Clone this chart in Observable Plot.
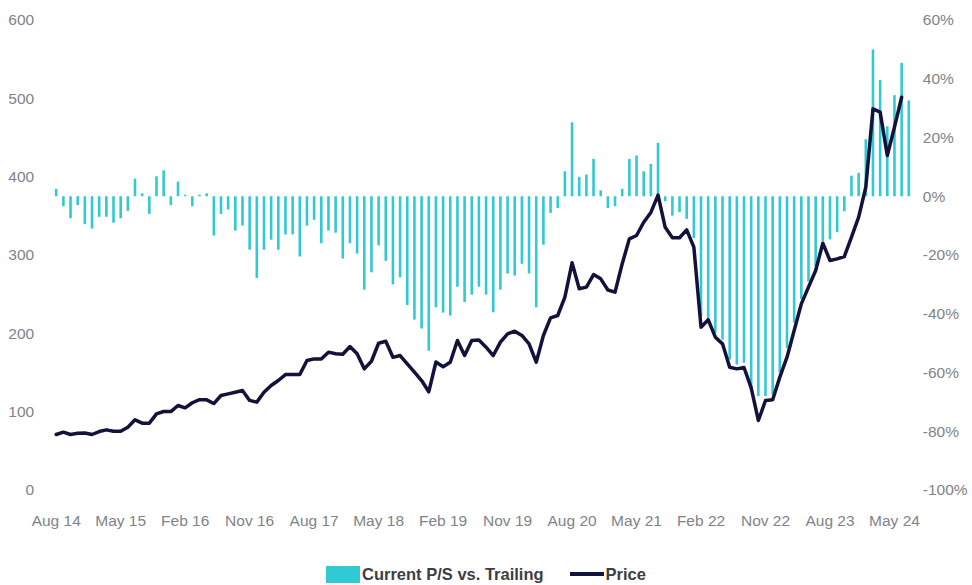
<!DOCTYPE html>
<html>
<head>
<meta charset="utf-8">
<script src="https://cdn.jsdelivr.net/npm/d3@7"></script>
<script src="https://cdn.jsdelivr.net/npm/@observablehq/plot@0.6"></script>
<style>
  html, body { margin: 0; padding: 0; background: #fff; }
  body { width: 972px; font-family: "Liberation Sans", sans-serif; }
  #legend { display: flex; justify-content: center; align-items: center; margin-top: 24px; height: 20px;
            font-weight: bold; font-size: 16.5px; color: #3d3d45; }
  .sw { display: inline-block; }
</style>
</head>
<body>
<div id="chart"></div>
<div id="legend">
  <span class="sw" style="width:34px;height:17px;background:#2fcad3;margin-right:2px;"></span>
  <span>Current P/S vs. Trailing</span>
  <span class="sw" style="width:34px;height:4px;background:#12123a;margin-left:26px;margin-right:2px;"></span>
  <span>Price</span>
</div>
<script>
// Months from Aug 2014 to Jul 2024 (category axis)
const startYear = 2014, startMonth = 7; // August (0-based)
const months = d3.range(120).map(i => {
  const d = new Date(Date.UTC(startYear, startMonth + i, 1));
  return d3.utcFormat("%Y-%m")(d);
});

// Tick labels (every 9 months)
const tickMonths = ["2014-08","2015-05","2016-02","2016-11","2017-08","2018-05","2019-02","2019-11","2020-08","2021-05","2022-02","2022-11","2023-08","2024-05"];
const tickLabels = ["Aug 14","May 15","Feb 16","Nov 16","Aug 17","May 18","Feb 19","Nov 19","Aug 20","May 21","Feb 22","Nov 22","Aug 23","May 24"];

// Current P/S vs. Trailing (%), Aug 14 .. Jul 24
const psVsTrailing = [
  2.5, -3.4, -7.5, -3, -9.5, -11, -7, -7, -9, -7.5,
  -5, 6, 1, -6, 6.8, 8.8, -3, 5, 0.5, -3.4,
  0.5, 1, -13.4, -6, -4.5, -11.7, -10, -18.2, -27.8, -18.2,
  -14.8, -18.2, -13, -13, -20.5, -10, -8, -16, -11.7, -12.4,
  -21.2, -16, -19.5, -31.8, -25.9, -16.7, -22, -30, -27.6, -37,
  -42, -45, -52.6, -37.8, -39.6, -40.6, -30.8, -36, -33.5, -30.8,
  -33.5, -39.5, -31.8, -26.3, -27, -23, -26.3, -37.8, -16.5, -5.7,
  -4, 8.5, 25.2, 6.6, 7.4, 12.7, 2, -4, -3.4, 2.5,
  12.7, 13.9, 8.5, 11, 18.2, -1.7, -6.6, -5.4, -7.7, -14.2,
  -40.8, -42.5, -46.5, -48.8, -55.6, -57.3, -56.7, -65.8, -68, -68,
  -67.5, -60, -51.6, -43, -35, -29, -23.8, -15.3, -14.7, -12.2,
  -5.1, 7, 8, 19.4, 50, 39.6, 23.8, 34.4, 45.4, 32.6
];

// Price, Aug 14 .. Jun 24
const price = [
  71.5, 74.5, 71.5, 73, 73.5, 71.5, 75.3, 77.4, 75.7, 75.7,
  80.8, 90.2, 86, 86, 97.9, 100.8, 100.8, 108.5, 105.5, 112,
  116, 115.7, 111, 121.3, 123.4, 125.5, 127.7, 115, 112.8, 125.5,
  134, 140.4, 148, 148, 148, 166, 168, 168, 176.6, 174.5,
  174, 183.8, 174.5, 155.3, 165, 188, 190.6, 170, 172.3, 161.7,
  151, 140.4, 126, 164, 158, 163.8, 191.5, 172.3, 191.5, 192,
  183, 172.3, 189.4, 200, 203.4, 197.9, 187.2, 163.8, 197.9, 220.4,
  223.4, 246.8, 290.7, 257.5, 259.6, 275.7, 270.2, 256, 253.2, 289.4,
  321.3, 325.5, 342.5, 355, 377, 336, 322.6, 322.6, 332.7, 310.6,
  208.5, 218, 195.7, 187.2, 157.4, 155.3, 157, 131, 89.4, 114.9,
  115.8, 144.7, 170.2, 204.3, 238.3, 259.6, 280.9, 315.7, 293.6, 295.7,
  298.7, 323.4, 348.9, 387.2, 487.2, 483, 427.7, 463.8, 502
];

const leftTicks = [0, 100, 200, 300, 400, 500, 600];
const rightTicks = [-100, -80, -60, -40, -20, 0, 20, 40, 60];

// secondary axis (-100%..60%) mapped onto price axis (0..600)
const toLeft = p => (p + 100) * 600 / 160;
const toPct = v => Math.round(v * 160 / 600 - 100);

const bars = months.map((m, i) => ({month: m, pct: psVsTrailing[i]}));
const line = price.map((v, i) => ({month: months[i], price: v}));

const tickText = new Map(tickMonths.map((m, i) => [m, tickLabels[i]]));

const font = "'Liberation Sans', sans-serif";
const grey = "#80838a";

const chart = Plot.plot({
  width: 972,
  height: 540,
  marginLeft: 55.7,
  marginRight: 63.7,
  marginTop: 20,
  marginBottom: 50,
  style: {fontFamily: font, background: "#fff"},
  x: {type: "point", domain: months, padding: 0, round: false},
  y: {domain: [0, 600]},
  marks: [
    Plot.ruleX(bars, {x: "month", y1: () => toLeft(0), y2: d => toLeft(d.pct), stroke: "#2fcad3", strokeWidth: 2.6}),
    Plot.line(line, {x: "month", y: "price", stroke: "#12123a", strokeWidth: 3.5, strokeLinejoin: "round"}),
    Plot.axisY({anchor: "left", ticks: leftTicks, tickSize: 0, tickPadding: 22, fontSize: 15.5, color: grey, label: null}),
    Plot.axisY({anchor: "right", ticks: rightTicks.map(toLeft), tickFormat: v => toPct(v) + "%", tickSize: 0, tickPadding: 14, fontSize: 15.5, color: grey, label: null}),
    Plot.axisX({ticks: tickMonths, tickFormat: m => tickText.get(m), tickSize: 0, tickPadding: 24, fontSize: 15.5, color: grey, label: null})
  ]
});
document.getElementById("chart").appendChild(chart);
</script>
</body>
</html>
